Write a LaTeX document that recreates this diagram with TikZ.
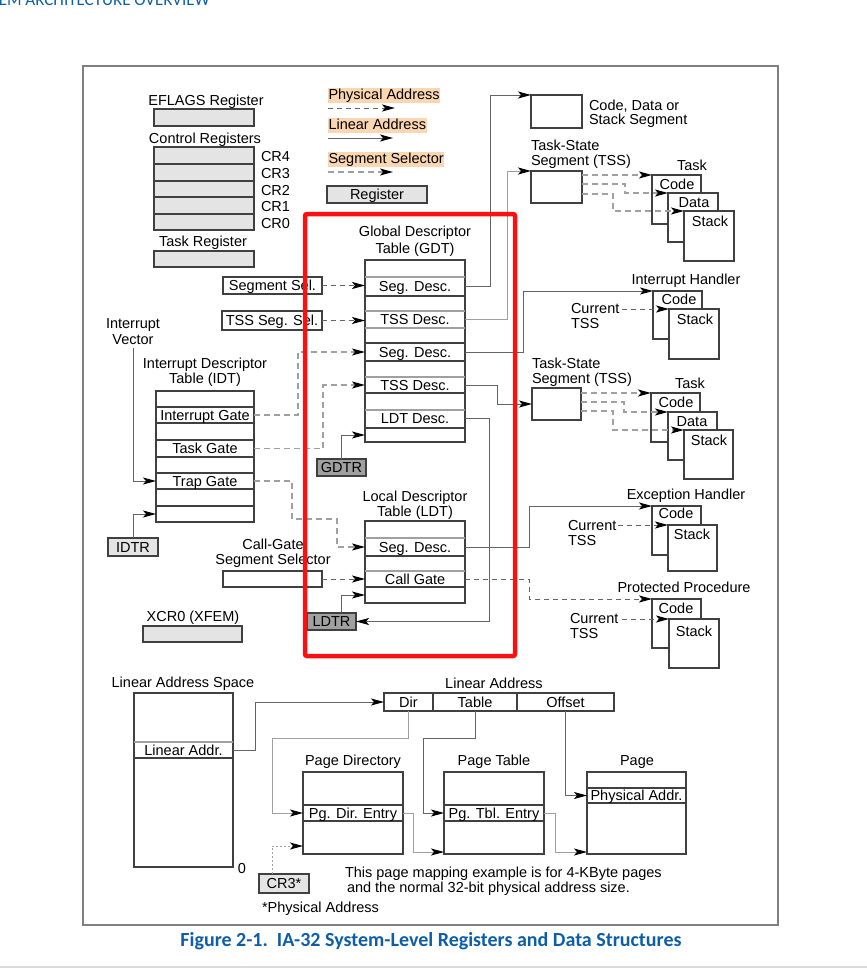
\documentclass[tikz,border=0pt]{standalone}
\usepackage{fontspec}
\setmainfont{Liberation Sans}
\newfontfamily\capfont{Carlito}
\usetikzlibrary{arrows.meta}

\definecolor{boxc}{RGB}{64,64,64}
\definecolor{linec}{RGB}{100,100,100}
\definecolor{lightc}{RGB}{160,160,160}
\definecolor{regfill}{RGB}{228,228,228}
\definecolor{darkreg}{RGB}{160,160,160}
\definecolor{peach}{RGB}{250,214,178}
\definecolor{framec}{RGB}{128,128,128}
\definecolor{intelblue}{RGB}{12,94,168}
\definecolor{hlred}{RGB}{250,16,16}

\tikzset{
  lbl/.style={inner sep=0pt, outer sep=0pt, font=\fontsize{14.5pt}{17pt}\selectfont,
              text height=10.4pt, text depth=0pt},
  lblw/.style={lbl, anchor=west},
  bx/.style 2 args={draw=boxc, line width=1.2pt, fill=white, inner sep=0pt, outer sep=0pt,
                    minimum width=#1, minimum height=#2},
  rg/.style 2 args={bx={#1}{#2}, lbl, fill=regfill},
  drg/.style 2 args={bx={#1}{#2}, lbl, fill=darkreg},
  rowt/.style={lbl, minimum width=#1},
  hl/.style={anchor=west, fill=peach, inner xsep=0.5pt, inner ysep=0.5pt, outer sep=0pt,
             font=\fontsize{14.5pt}{17pt}\selectfont, text height=11pt, text depth=3pt},
  tip/.style={-{Stealth[length=13pt, width=7pt, inset=3pt, color=black]}},
  wire/.style={draw=linec, line width=1pt},
  conn/.style={wire, tip},
  phys/.style={conn, dash pattern=on 5pt off 4pt},
  sel/.style={conn, draw=lightc, line width=1.3pt, dash pattern=on 6pt off 4pt},
  dotc/.style={conn, draw=lightc, dash pattern=on 2pt off 2pt},
  sepd/.style={draw=boxc, line width=1.2pt},
  sepl/.style={draw=lightc, line width=1.6pt},
}

\begin{document}
\begin{tikzpicture}[x=1pt,y=-1pt]
\useasboundingbox (0,0) rectangle (867,969);
\clip (0,0) rectangle (867,969);

% running header and page rule
\node[anchor=base east, inner sep=0pt, text=intelblue,
      font=\capfont\fontsize{17pt}{19pt}\selectfont] (hdr) at (210,5.5) {SYSTEM ARCHITECTURE OVERVIEW};
\draw[black!15, line width=2pt] (0,967) -- (867,967);

% figure frame
\draw[framec, line width=1.8pt] (83,66) rectangle (778,925);

% ---------- legend ----------
\node[hl] (lgPhys) at (328,95.5) {Physical Address};
\coordinate (lgP1) at (328,108); \coordinate (lgP2) at (395,108);
\draw[phys] (lgP1) -- (lgP2);
\node[hl] (lgLin) at (328,125) {Linear Address};
\coordinate (lgL1) at (328,138); \coordinate (lgL2) at (393,138);
\draw[conn] (lgL1) -- (lgL2);
\node[hl] (lgSel) at (328,159) {Segment Selector};
\coordinate (lgS1) at (328,172); \coordinate (lgS2) at (393,172);
\draw[sel] (lgS1) -- (lgS2);
\node[rg={100}{17}] (lgReg) at (377,194.5) {Register};

% ---------- system registers ----------
\node[lbl] (eflT) at (206,100) {EFLAGS Register};
\node[rg={100}{17}] (efl) at (204,117.5) {};
\node[lbl] (crT) at (205,138) {Control Registers};
\node[rg={100}{17}] (cr4) at (204,155.5) {};
\node[rg={100}{17}] (cr3r) at (204,172.5) {};
\node[rg={100}{16}] (cr2) at (204,189) {};
\node[rg={100}{17}] (cr1) at (204,205.5) {};
\node[rg={100}{16}] (cr0) at (204,222) {};
\node[lblw] (cr4T) at (261,156) {CR4};
\node[lblw] (cr3T) at (261,173) {CR3};
\node[lblw] (cr2T) at (261,190) {CR2};
\node[lblw] (cr1T) at (261,206) {CR1};
\node[lblw] (cr0T) at (261,223) {CR0};
\node[lbl] (trT) at (203,241) {Task Register};
\node[rg={100}{16}] (tr) at (204,259) {};

% ---------- segment targets (top right) ----------
\node[bx={51}{33}] (cds) at (556.5,111.5) {};
\node[lblw] (cdsT1) at (589,105) {Code, Data or};
\node[lblw] (cdsT2) at (589,119) {Stack Segment};

\node[lblw] (tss1T1) at (531,145) {Task-State};
\node[lblw] (tss1T2) at (531,160) {Segment (TSS)};
\node[bx={51}{32}] (tss1) at (556.5,187) {};
\node[lbl] (t1T) at (692,165) {Task};
\node[bx={49}{49}] (t1code) at (676.5,199.5) {};
\node[lbl] (t1codeT) at (677,184) {Code};
\node[bx={50}{49}] (t1data) at (693,217.5) {};
\node[lbl] (t1dataT) at (694,202) {Data};
\node[bx={50}{50}] (t1stack) at (709,236) {};
\node[lbl] (t1stackT) at (710,221) {Stack};
\draw[sel] ([yshift=-4pt]tss1.north east) -- (t1code.north west);
\draw[sel] ([yshift=-13pt]tss1.north east) -- ++(43,0) |- (t1data.north west);
\draw[sel] ([yshift=-23pt]tss1.north east) -- ++(31,0) |- (t1stack.north west);

% interrupt handler
\node[lbl] (ihT) at (686,279) {Interrupt Handler};
\node[bx={49}{48}] (ihcode) at (677.5,315) {};
\node[lbl] (ihcodeT) at (679,299) {Code};
\node[bx={50}{50}] (ihstack) at (694,334) {};
\node[lbl] (ihstackT) at (695,319) {Stack};
\node[lblw] (ihcurT1) at (571,308) {Current};
\node[lblw] (ihcurT2) at (571,323) {TSS};
\coordinate (ihcur) at (622,309);
\draw[phys] (ihcur) -- (ihstack.north west);

% second task
\node[lblw] (tss2T1) at (532,363) {Task-State};
\node[lblw] (tss2T2) at (532,378) {Segment (TSS)};
\node[bx={49}{32}] (tss2) at (556.5,404) {};
\node[lbl] (t2T) at (690,383) {Task};
\node[bx={49}{49}] (t2code) at (675.5,417.5) {};
\node[lbl] (t2codeT) at (676,402) {Code};
\node[bx={49}{48}] (t2data) at (692.5,436) {};
\node[lbl] (t2dataT) at (692,421) {Data};
\node[bx={49}{49}] (t2stack) at (708.5,454.5) {};
\node[lbl] (t2stackT) at (709,440) {Stack};
\draw[sel] ([yshift=-5pt]tss2.north east) -- (t2code.north west);
\draw[sel] ([yshift=-14pt]tss2.north east) -- ++(43,0) |- (t2data.north west);
\draw[sel] ([yshift=-23pt]tss2.north east) -- ++(32,0) |- (t2stack.north west);

% exception handler
\node[lbl] (ehT) at (686,494) {Exception Handler};
\node[bx={49}{49}] (ehcode) at (676.5,530.5) {};
\node[lbl] (ehcodeT) at (676,513.5) {Code};
\node[bx={49}{46}] (ehstack) at (692.5,548) {};
\node[lbl] (ehstackT) at (692,534.5) {Stack};
\node[lblw] (ehcurT1) at (568,525) {Current};
\node[lblw] (ehcurT2) at (568,540) {TSS};
\coordinate (ehcur) at (618,525);
\draw[phys] (ehcur) -- (ehstack.north west);

% protected procedure
\node[lbl] (ppT) at (684,587) {Protected Procedure};
\node[bx={49}{49}] (ppcode) at (676.5,623.5) {};
\node[lbl] (ppcodeT) at (676,608) {Code};
\node[bx={50}{49}] (ppstack) at (694,643.5) {};
\node[lbl] (ppstackT) at (694,631) {Stack};
\node[lblw] (ppcurT1) at (570,618) {Current};
\node[lblw] (ppcurT2) at (570,633) {TSS};
\coordinate (ppcur) at (622,619);
\draw[phys] (ppcur) -- (ppstack.north west);

% ---------- global descriptor table ----------
\node[lbl] (gdtT1) at (415,231) {Global Descriptor};
\node[lbl] (gdtT2) at (415,248) {Table (GDT)};
\node[bx={100}{182}] (gdt) at (415,351) {};
\foreach \yy in {277,311,328,377,410} \draw[sepl] (365,\yy) -- (465,\yy);
\foreach \yy in {296,343,361,393,428} \draw[sepd] (365,\yy) -- (465,\yy);
\node[rowt=100pt] (gdt1) at (415,286.5) {Seg. Desc.};
\node[rowt=100pt] (gdt3) at (415,319.5) {TSS Desc.};
\node[rowt=100pt] (gdt5) at (415,352) {Seg. Desc.};
\node[rowt=100pt] (gdt7) at (415,385) {TSS Desc.};
\node[rowt=100pt] (gdt9) at (415,418.5) {LDT Desc.};
\node[rowt=100pt] (gdt10) at (415,435) {};

\node[bx={99}{17}, lbl] (segsel) at (272.5,285.5) {Segment Sel.};
\node[bx={100}{19}, lbl] (tsssel) at (272,320.5) {TSS Seg. Sel.};
\draw[phys] (segsel.east) -- (segsel.east -| gdt1.west);
\draw[phys] (tsssel.east) -- (tsssel.east -| gdt3.west);

\node[drg={49}{17}] (gdtr) at (341.5,467.5) {GDTR};
\draw[conn] (gdtr.north) |- (gdt10.west);

\draw[conn] (gdt1.east) -- ++(25,0) |- (cds.north west);
\draw[conn, draw=lightc] (gdt3.east) -- ++(42,0) |- (tss1.north west);
\draw[conn] (gdt5.east) -- ++(58,0) |- (ihcode.north west);
\draw[conn] (gdt7.east) -- ++(32,0) |- (tss2.west);

% ---------- interrupt descriptor table ----------
\node[lbl] (ivT1) at (133,323) {Interrupt};
\node[lbl] (ivT2) at (133,339) {Vector};
\node[lbl] (idtT1) at (205,363) {Interrupt Descriptor};
\node[lbl] (idtT2) at (205,378) {Table (IDT)};
\node[bx={98}{131}] (idt) at (205,456.5) {};
\foreach \yy in {407,423,440,457,473,489,506} \draw[sepd] (156,\yy) -- (254,\yy);
\node[rowt=98pt] (idt1) at (205,415) {Interrupt Gate};
\node[rowt=98pt] (idt3) at (205,448.5) {Task Gate};
\node[rowt=98pt] (idt5) at (205,481) {Trap Gate};
\node[rowt=98pt] (idt7) at (205,514) {};
\coordinate (ivec) at (133,348);
\draw[conn] (ivec) |- (idt5.west);
\node[rg={50}{18}] (idtr) at (133,547) {IDTR};
\draw[conn] (idtr.north) |- (idt7.west);
\draw[sel] (idt1.east) -- ++(44,0) |- (gdt5.west);
\draw[sel] (idt3.east) -- ++(69,0) |- (gdt7.west);

% ---------- local descriptor table ----------
\node[lbl] (ldtT1) at (415,496) {Local Descriptor};
\node[lbl] (ldtT2) at (415,511) {Table (LDT)};
\node[bx={100}{82}] (ldt) at (415,562) {};
\foreach \yy in {538,571} \draw[sepl] (365,\yy) -- (465,\yy);
\foreach \yy in {556,587} \draw[sepd] (365,\yy) -- (465,\yy);
\node[rowt=100pt] (ldt1) at (415,547) {Seg. Desc.};
\node[rowt=100pt] (ldt3) at (415,579) {Call Gate};
\node[rowt=100pt] (ldt4) at (415,595) {};

\draw[sel] (idt5.east) -- ++(38,0) |- (337,519) |- (ldt1.west);

\node[lbl] (cgT1) at (273,544) {Call-Gate};
\node[lbl] (cgT2) at (273,559) {Segment Selector};
\node[bx={99}{16}] (cgsel) at (272.5,579) {};
\draw[phys] (cgsel.east) -- (cgsel.east -| ldt3.west);

\node[drg={49}{17}] (ldtr) at (331.5,621.5) {LDTR};
\draw[conn] ([xshift=10pt]ldtr.north) |- (ldt4.west);
\draw[conn] (gdt9.east) -- ++(24,0) |- (ldtr.east);

\draw[conn] (ldt1.east) -- ++(64,0) |- (ehcode.north west);
\draw[phys] (ldt3.east) -- ++(64,0) |- (ppcode.north west);

\node[lbl] (xcrT) at (193,616) {XCR0 (XFEM)};
\node[rg={99}{16}] (xcr) at (192.5,634) {};

% ---------- paging ----------
\node[lbl] (lasT) at (183,682) {Linear Address Space};
\node[bx={99}{174}] (las) at (183.5,780) {};
\draw[sepl] (134,742) -- (233,742);
\draw[sepd] (134,758) -- (233,758);
\node[rowt=99pt] (las1) at (183.5,750) {Linear Addr.};
\node[lbl] (zeroT) at (242,868) {0};

\node[lbl] (laT) at (494,683) {Linear Address};
\node[bx={49}{18}, lbl] (dir) at (408.5,702) {Dir};
\node[bx={84}{18}, lbl] (tbl) at (475,702) {Table};
\node[bx={97}{18}, lbl] (off) at (565.5,702) {Offset};
\draw[conn] (las1.east) -- ++(22,0) |- (dir.west);

\node[lbl] (pdT) at (353,760) {Page Directory};
\node[bx={100}{82}] (pdbox) at (353,813) {};
\draw[sepd] (303,805) -- (403,805);
\draw[sepd] (303,821) -- (403,821);
\node[rowt=100pt] (pde) at (353,813) {Pg. Dir. Entry};

\node[lbl] (ptT) at (494,760) {Page Table};
\node[bx={100}{82}] (ptbox) at (494,813) {};
\draw[sepd] (444,805) -- (544,805);
\draw[sepd] (444,821) -- (544,821);
\node[rowt=100pt] (pte) at (494,813) {Pg. Tbl. Entry};

\node[lbl] (pgT) at (637,760) {Page};
\node[bx={99}{82}] (pgbox) at (636.5,813) {};
\draw[sepd] (587,788) -- (686,788);
\draw[sepd] (587,803) -- (686,803);
\node[rowt=99pt] (pa) at (636.5,795.5) {Physical Addr.};

\draw[conn, draw=lightc] (dir.south) |- (272,738) |- (pde.west);
\draw[conn] (tbl.south) |- (423,738) |- (pte.west);
\draw[conn] (off.south) |- (pa.west);
\draw[conn, draw=lightc] (pde.east) -- ++(10,0) |- ([yshift=2pt]ptbox.south west);
\draw[conn, draw=lightc] (pte.east) -- ++(11,0) |- ([yshift=2pt]pgbox.south west);

\node[rg={50}{19}] (cr3) at (284,883.5) {CR3*};
\draw[dotc] ([xshift=-12pt]cr3.north) |- ([yshift=8pt]pdbox.south west);
\node[lbl] (physT) at (320.5,907) {*Physical Address};

\node[lblw] (noteT1) at (345,872) {This page mapping example is for 4-KByte pages};
\node[lblw] (noteT2) at (347,887) {and the normal 32-bit physical address size.};

% highlight around the segmentation tables
\draw[hlred, line width=4.5pt, rounded corners=2pt] (305,214) rectangle (515,656);

% caption
\node[inner sep=0pt, text=intelblue, font=\capfont\bfseries\fontsize{20pt}{23pt}\selectfont]
  (cap) at (431,941) {Figure 2-1.\ \ IA-32 System-Level Registers and Data Structures};
\end{tikzpicture}
\end{document}
